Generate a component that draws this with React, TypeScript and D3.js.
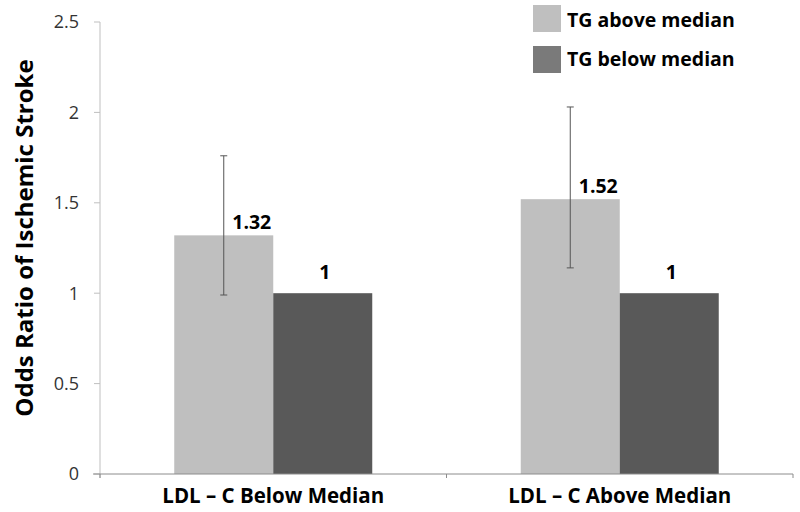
import React from "react";
import * as d3 from "d3";

const categories = ["LDL – C Below Median", "LDL – C Above Median"];
const seriesNames = ["TG above median", "TG below median"];
const aboveValues = [1.32, 1.52];
const belowValues = [1, 1];
const aboveErrLow = [0.99, 1.14];
const aboveErrHigh = [1.76, 2.03];
const yTicks = [0, 0.5, 1, 1.5, 2, 2.5];
const yTickLabels = ["0", "0.5", "1", "1.5", "2", "2.5"];
const colors = ["#bfbfbf", "#595959"];
const legendColors = ["#bfbfbf", "#7a7a7a"];

export default function App() {
  const W = 800, H = 512;
  const left = 100, right = 793, top = 22, bottom = 474;
  const x = d3.scaleBand<string>().domain(categories).range([left, right]);
  const y = d3.scaleLinear().domain([0, 2.5]).range([bottom, top]);
  const barW = 99;
  const sub = d3.scaleBand<string>().domain(seriesNames).range([-barW, barW]);
  const font = "'Open Sans', 'DejaVu Sans', sans-serif";
  const series = [aboveValues, belowValues];

  return (
    <svg width={W} height={H} style={{ position: "absolute", left: 0, top: 0, background: "#fff" }}>
      <rect x={0} y={0} width={W} height={H} fill="#fff" />
      {/* y axis */}
      <line x1={left} x2={left} y1={top} y2={bottom + 4} stroke="#bfbfbf" strokeWidth={1} />
      {yTicks.map((t, i) => (
        <g key={t}>
          <line x1={left - 6} x2={left} y1={y(t)} y2={y(t)} stroke="#bfbfbf" />
          <text x={79} y={y(t)} dy="0.36em" textAnchor="end" fontSize={18} fill="#333" fontFamily={font}>
            {yTickLabels[i]}
          </text>
        </g>
      ))}
      {/* bars */}
      {categories.map((c, ci) => {
        const cx = x(c)! + x.bandwidth() / 2;
        return (
          <g key={c}>
            {seriesNames.map((s, si) => (
              <rect
                key={s}
                x={cx + sub(s)!}
                y={y(series[si][ci])}
                width={sub.bandwidth()}
                height={y(0) - y(series[si][ci])}
                fill={colors[si]}
              />
            ))}
          </g>
        );
      })}
      {/* x axis */}
      <line x1={left - 7} x2={right} y1={bottom} y2={bottom} stroke="#8c8c8c" strokeWidth={1} />
      {[...categories.map((c) => x(c)!), right].map((v, i) => (
        <line key={i} x1={v} x2={v} y1={bottom} y2={bottom + 4} stroke="#8c8c8c" />
      ))}
      {/* error bars */}
      {categories.map((c, ci) => {
        const ex = x(c)! + x.bandwidth() / 2 + sub(seriesNames[0])! + sub.bandwidth() / 2;
        return (
          <g key={"e" + c} stroke="#555" strokeWidth={1}>
            <line x1={ex} x2={ex} y1={y(aboveErrHigh[ci])} y2={y(aboveErrLow[ci])} />
            <line x1={ex - 3.5} x2={ex + 3.5} y1={y(aboveErrHigh[ci])} y2={y(aboveErrHigh[ci])} />
            <line x1={ex - 3.5} x2={ex + 3.5} y1={y(aboveErrLow[ci])} y2={y(aboveErrLow[ci])} />
          </g>
        );
      })}
      {/* value labels */}
      {categories.map((c, ci) => {
        const cx = x(c)! + x.bandwidth() / 2;
        return (
          <g key={"l" + c} fontFamily={font} fontWeight="bold" fontSize={19.5} fill="#000">
            <text x={cx + sub(seriesNames[0])! + sub.bandwidth() / 2 + 28} y={y(aboveValues[ci]) - 6} textAnchor="middle">
              {String(aboveValues[ci])}
            </text>
            <text x={cx + sub(seriesNames[1])! + sub.bandwidth() / 2 + 2} y={y(belowValues[ci]) - 14} textAnchor="middle">
              {String(belowValues[ci])}
            </text>
          </g>
        );
      })}
      {/* category labels */}
      {categories.map((c) => (
        <text
          key={"c" + c}
          x={x(c)! + x.bandwidth() / 2}
          y={503}
          textAnchor="middle"
          fontFamily={font}
          fontWeight="bold"
          fontSize={20.5}
          fill="#000"
        >
          {c}
        </text>
      ))}
      {/* y title */}
      <text
        transform={`translate(33, 238) rotate(-90)`}
        textAnchor="middle"
        fontFamily={font}
        fontWeight="bold"
        fontSize={24}
        fill="#000"
      >
        Odds Ratio of Ischemic Stroke
      </text>
      {/* legend */}
      {seriesNames.map((s, i) => (
        <g key={"lg" + s}>
          <rect x={533} y={5 + i * 41} width={28} height={27} fill={legendColors[i]} />
          <text x={567} y={27 + i * 39} fontFamily={font} fontWeight="bold" fontSize={19.5} fill="#000">
            {s}
          </text>
        </g>
      ))}
    </svg>
  );
}
